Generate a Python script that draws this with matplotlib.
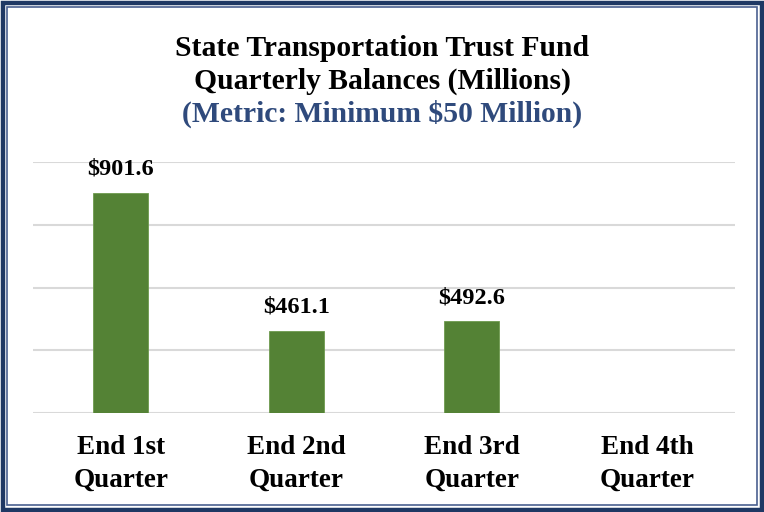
import matplotlib
matplotlib.use("Agg")
import matplotlib.pyplot as plt
import matplotlib.transforms as mtransforms
import numpy as np
from matplotlib.patches import Rectangle

categories = ["End 1st\nQuarter", "End 2nd\nQuarter", "End 3rd\nQuarter", "End 4th\nQuarter"]
values = [901.6, 461.1, 492.6, np.nan]
value_labels = ["$901.6", "$461.1", "$492.6", ""]
y_ticks = [200, 400, 600, 800, 1000]
title_lines = ["State Transportation Trust Fund", "Quarterly Balances (Millions)"]
subtitle = "(Metric: Minimum $50 Million)"

FAM = 'Liberation Serif'
plt.rcParams['font.family'] = [FAM, 'DejaVu Serif']

W, H = 764, 512
fig = plt.figure(figsize=(W / 100, H / 100), dpi=100)
fig.patch.set_facecolor("white")

ax = fig.add_axes([33 / W, 1 - 413 / H, (735 - 33) / W, (413 - 162) / H])
x = np.arange(len(categories))
ax.bar(x, values, width=0.313, color="#548235", edgecolor="#6E9A4E", linewidth=0.6, zorder=3)
ax.set_xlim(-0.5, len(categories) - 0.5)
ax.set_ylim(y_ticks[0], y_ticks[-1])
ax.set_yticks(y_ticks)
ax.yaxis.grid(True, color="#D9D9D9", linewidth=1.5, zorder=0)
ax.tick_params(axis="y", left=False, labelleft=False)
ax.set_xticks(x)
ax.tick_params(axis="x", bottom=False, labelbottom=False)
for s in ax.spines.values():
    s.set_visible(False)
ax.set_facecolor("none")

trans = mtransforms.blended_transform_factory(ax.transData, fig.transFigure)
for xi, cat in zip(x, categories):
    l1, l2 = cat.split("\n")
    ax.text(xi, 1 - 447 / H, l1, transform=trans, ha="center", va="center",
            fontsize=19.5, fontweight="bold", family=FAM, color="black")
    ax.text(xi, 1 - 480 / H, l2, transform=trans, ha="center", va="center",
            fontsize=19.5, fontweight="bold", family=FAM, color="black")

for xi, v, lab in zip(x, values, value_labels):
    if not np.isnan(v):
        ax.annotate(lab, (xi, v), xytext=(0, 17), textcoords="offset points",
                    ha="center", va="center", fontsize=17.5, fontweight="bold", color="black",
                    family=FAM)

fig.text(0.5, 1 - 48 / H, title_lines[0], ha="center", va="center", fontsize=21.3, fontweight="bold", color="black", family=FAM)
fig.text(0.5, 1 - 81 / H, title_lines[1], ha="center", va="center", fontsize=21.3, fontweight="bold", color="black", family=FAM)
fig.text(0.5, 1 - 114 / H, subtitle, ha="center", va="center", fontsize=21.3, fontweight="bold", color="#2F4A7C", family=FAM)

# double border
fig.patches.append(Rectangle((2.5 / W, 2.5 / H), 1 - 5 / W, 1 - 5 / H, transform=fig.transFigure,
                             fill=False, edgecolor="#1F3864", linewidth=3.2))
fig.patches.append(Rectangle((7 / W, 7 / H), 1 - 14 / W, 1 - 14 / H, transform=fig.transFigure,
                             fill=False, edgecolor="#4A6090", linewidth=1.2))

fig.savefig("out.png", dpi=100)
